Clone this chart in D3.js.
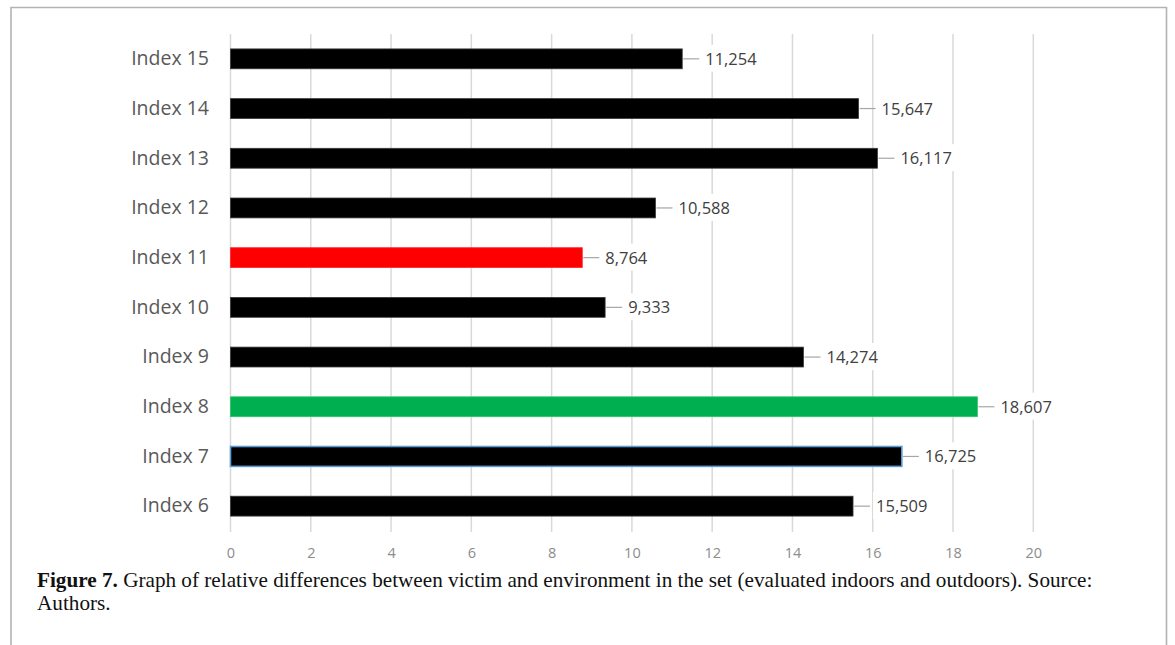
<!DOCTYPE html>
<html>
<head>
<meta charset="utf-8">
<script src="https://cdn.jsdelivr.net/npm/d3@7"></script>
<style>
  html, body { margin: 0; padding: 0; background: #fff; }
  svg { display: block; }
</style>
</head>
<body>
<svg id="chart" width="1175" height="645"></svg>
<script>
// ---- data ----
const categories = ["Index 15", "Index 14", "Index 13", "Index 12", "Index 11", "Index 10", "Index 9", "Index 8", "Index 7", "Index 6"];
const values = [11.254, 15.647, 16.117, 10.588, 8.764, 9.333, 14.274, 18.607, 16.725, 15.509];
const valueLabels = ["11,254", "15,647", "16,117", "10,588", "8,764", "9,333", "14,274", "18,607", "16,725", "15,509"];
const barColors = ["#000000", "#000000", "#000000", "#000000", "#ff0000", "#000000", "#000000", "#00b050", "#000000", "#000000"];
const barOutlines = ["#3a3a3a", "#3a3a3a", "#3a3a3a", "#3a3a3a", "#ff2a2a", "#3a3a3a", "#3a3a3a", "#2fc46a", "#5b9bd5", "#3a3a3a"];
const xTicks = [0, 2, 4, 6, 8, 10, 12, 14, 16, 18, 20];
const captionBold = "Figure 7.";
const captionLine1 = " Graph of relative differences between victim and environment in the set (evaluated indoors and outdoors). Source:";
const captionLine2 = "Authors.";

// ---- layout ----
const svg = d3.select("#chart");
const x = d3.scaleLinear().domain([0, 20]).range([230.5, 1033.3]);
const y = d3.scaleBand().domain(categories).range([34, 531]).paddingInner(0.6).paddingOuter(0.3);

// frame
svg.append("path")
  .attr("d", "M11,645 L11,7.5 L1166.5,7.5 L1166.5,645")
  .attr("fill", "none").attr("stroke", "#b3b3b3").attr("stroke-width", 1.6);

// gridlines
const grid = svg.append("g");
grid.selectAll("line").data(xTicks).join("line")
  .attr("x1", d => x(d)).attr("x2", d => x(d))
  .attr("y1", 34).attr("y2", 532)
  .attr("stroke", "#d9d9d9").attr("stroke-width", 1.5);

// x axis (tick labels only)
const xAxis = d3.axisBottom(x).tickValues(xTicks).tickSize(0).tickPadding(0).tickFormat(d3.format("d"));
const gx = svg.append("g").attr("transform", "translate(0,548)").call(xAxis);
gx.select(".domain").remove();
gx.selectAll("text")
  .attr("font-family", "'Open Sans', sans-serif")
  .attr("font-size", 14.5)
  .attr("fill", "#8c8c8c");

// category labels
const yAxis = d3.axisLeft(y).tickSize(0).tickPadding(0);
const gy = svg.append("g").attr("transform", "translate(209,0)").call(yAxis);
gy.select(".domain").remove();
gy.selectAll("text")
  .attr("font-family", "'Open Sans', sans-serif")
  .attr("font-size", 19.5)
  .attr("fill", "#595959");

// bars
const rows = categories.map((c, i) => ({c, v: values[i], label: valueLabels[i], fill: barColors[i], stroke: barOutlines[i]}));
svg.append("g").selectAll("rect").data(rows).join("rect")
  .attr("x", x(0))
  .attr("y", d => y(d.c))
  .attr("width", d => x(d.v) - x(0))
  .attr("height", y.bandwidth())
  .attr("fill", d => d.fill)
  .attr("stroke", d => d.stroke)
  .attr("stroke-width", d => d.stroke === "#5b9bd5" ? 1.6 : 0.8);

// value labels with leader lines
const lab = svg.append("g").selectAll("g").data(rows).join("g")
  .attr("transform", d => `translate(${x(d.v)},${y(d.c) + y.bandwidth() / 2})`);
lab.append("rect").attr("class", "bg")
  .attr("fill", "#fff");
lab.append("line")
  .attr("x1", 1).attr("x2", 17).attr("y1", 0).attr("y2", 0)
  .attr("stroke", "#a6a6a6").attr("stroke-width", 1.2);
lab.append("text")
  .attr("x", 23).attr("dy", "0.36em")
  .attr("font-family", "'Open Sans', sans-serif")
  .attr("font-size", 16.5)
  .attr("fill", "#404040")
  .text(d => d.label);
lab.each(function() {
  const g = d3.select(this);
  const bb = g.select("text").node().getBBox();
  g.select("rect.bg").attr("x", bb.x - 3).attr("y", bb.y - 2).attr("width", bb.width + 6).attr("height", bb.height + 4);
});

// caption
const cap = svg.append("text")
  .attr("x", 37).attr("y", 587)
  .attr("font-family", "'Liberation Serif', 'Times New Roman', serif")
  .attr("font-size", 19)
  .attr("fill", "#111");
cap.append("tspan").attr("font-weight", "bold").text(captionBold);
cap.append("tspan").text(captionLine1);
// fit to reference width
const w = cap.node().getComputedTextLength();
const fs = 19 * (1093 - 37) / w;
cap.attr("font-size", fs);
svg.append("text")
  .attr("x", 37).attr("y", 610)
  .attr("font-family", "'Liberation Serif', 'Times New Roman', serif")
  .attr("font-size", fs)
  .attr("fill", "#111")
  .text(captionLine2);
</script>
</body>
</html>
